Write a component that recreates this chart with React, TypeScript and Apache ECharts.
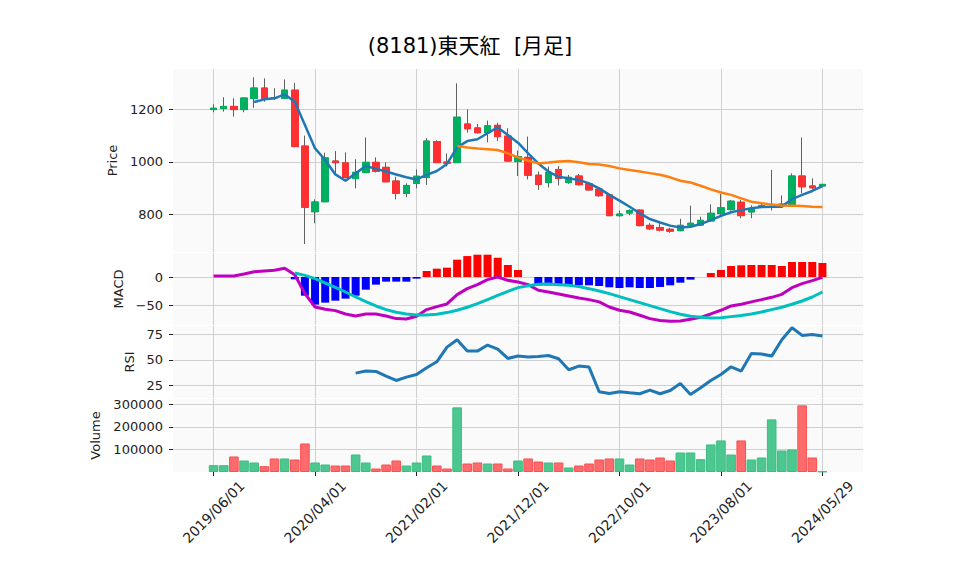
import React, { useEffect, useRef } from 'react';
import * as echarts from 'echarts';

const dates = [
  '2019/06/01', '2019/07/01', '2019/08/01', '2019/09/01', '2019/10/01', '2019/11/01', '2019/12/01',
  '2020/01/01', '2020/02/01', '2020/03/01', '2020/04/01', '2020/05/01', '2020/06/01', '2020/07/01',
  '2020/08/01', '2020/09/01', '2020/10/01', '2020/11/01', '2020/12/01', '2021/01/01', '2021/02/01',
  '2021/03/01', '2021/04/01', '2021/05/01', '2021/06/01', '2021/07/01', '2021/08/01', '2021/09/01',
  '2021/10/01', '2021/11/01', '2021/12/01', '2022/01/01', '2022/02/01', '2022/03/01', '2022/04/01',
  '2022/05/01', '2022/06/01', '2022/07/01', '2022/08/01', '2022/09/01', '2022/10/01', '2022/11/01',
  '2022/12/01', '2023/01/01', '2023/02/01', '2023/03/01', '2023/04/01', '2023/05/01', '2023/06/01',
  '2023/07/01', '2023/08/01', '2023/09/01', '2023/10/01', '2023/11/01', '2023/12/01', '2024/01/01',
  '2024/02/01', '2024/03/01', '2024/04/01', '2024/05/01', '2024/05/29',
];

const tickLabels = ['2019/06/01', '2020/04/01', '2021/02/01', '2021/12/01', '2022/10/01', '2023/08/01', '2024/05/29'];

const opens = [
  1199, 1203, 1211, 1199, 1241, 1281, 1245, 1242, 1273, 1060,
  810, 848, 1003, 996, 936, 959, 998, 979, 927, 880,
  918, 940, 1077, 999, 997, 1144, 1129, 1111, 1139, 1098,
  1001, 1017, 949, 921, 971, 921, 946, 916, 896, 874,
  795, 805, 816, 758, 750, 743, 738, 759, 759, 775,
  803, 818, 846, 809, 828, 828, 834, 831, 946, 908, 908,
];
const closes = [
  1204, 1211, 1199, 1243, 1281, 1241, 1243, 1273, 1058, 827,
  847, 1015, 997, 940, 960, 998, 964, 924, 880, 910,
  945, 1079, 997, 995, 1170, 1126, 1111, 1137, 1096, 1003,
  1020, 949, 914, 960, 937, 941, 913, 893, 871, 795,
  801, 814, 757, 745, 740, 736, 758, 766, 777, 804,
  825, 850, 795, 819, 833, 830, 839, 946, 905, 901, 914,
];
const highs = [
  1219, 1246, 1242, 1246, 1322, 1318, 1280, 1314, 1301, 1100,
  857, 1035, 1041, 1036, 1010, 1093, 1017, 998, 943, 918,
  971, 1090, 1082, 1032, 1299, 1200, 1144, 1157, 1149, 1128,
  1043, 1096, 963, 982, 984, 950, 954, 922, 903, 878,
  814, 819, 819, 766, 768, 749, 783, 833, 791, 838,
  877, 855, 855, 834, 840, 969, 872, 956, 1093, 937, 916,
];
const lows = [
  1189, 1191, 1172, 1189, 1206, 1229, 1235, 1240, 1056, 687,
  766, 848, 956, 937, 899, 958, 959, 921, 857, 865,
  899, 912, 995, 982, 997, 1111, 1108, 1074, 1079, 1001,
  946, 933, 893, 902, 910, 916, 910, 890, 867, 793,
  791, 796, 754, 740, 735, 730, 735, 755, 757, 772,
  791, 814, 785, 785, 825, 815, 832, 831, 880, 893, 906,
];

const ma5 = [
  null, null, null, null, 1228, 1238, 1242, 1257, 1229, 1140,
  1051, 1007, 952, 928, 956, 984, 973, 963, 952, 941,
  933, 950, 965, 992, 1055, 1079, 1086, 1109, 1131, 1102,
  1073, 1032, 994, 963, 943, 937, 931, 918, 899, 874,
  852, 829, 804, 782, 769, 757, 750, 753, 763, 778,
  794, 808, 816, 823, 828, 829, 829, 858, 874, 889, 907,
];
const ma25 = [
  null, null, null, null, null, null, null, null, null, null,
  null, null, null, null, null, null, null, null, null, null,
  null, null, null, null, 1060, 1055, 1051, 1048, 1045, 1032,
  1017, 1004, 994, 997, 1001, 1003, 998, 992, 990, 984,
  975, 969, 963, 957, 951, 941, 928, 921, 909, 895,
  883, 874, 861, 848, 842, 837, 834, 833, 832, 829, 828,
];

const macd = [
  1.8, 1.8, 1.8, 5.3, 9.4, 10.6, 11.8, 15.3, 4.1, -29.4,
  -53, -57, -59.4, -65.3, -68.8, -65.3, -65.3, -68.8, -73.5, -74.1,
  -69.4, -57.6, -52.4, -47.6, -31.2, -20.6, -13.5, -4.7, 0, -5.9,
  -8.8, -13.5, -23.5, -26.5, -30, -33.5, -37, -40, -44, -53,
  -58.8, -61.8, -67.6, -73.5, -77, -78.2, -77.6, -74.7, -71.2, -65.3,
  -58.8, -51.2, -48.2, -44, -40, -35.9, -30.6, -18.8, -11.8, -6.5, -0.6,
];
const signal = [
  null, null, null, null, null, null, null, null, 7, 2.9,
  -2.9, -10.6, -18.2, -26.5, -35.3, -43.5, -51.2, -57.6, -62.4, -65.3,
  -67, -67, -65.9, -62.9, -58.8, -53.5, -47, -40, -32.4, -25.3,
  -18.8, -15.3, -12.9, -12.4, -13.5, -14.7, -17, -20.6, -24.7, -29.4,
  -34.7, -40, -45.3, -50.6, -55.9, -61.2, -65.9, -69.4, -71.2, -72.4,
  -71.8, -70, -68.2, -65.3, -61.8, -57.6, -53.5, -48.2, -42.4, -35.3, -26.5,
];
const histogram = [
  null, null, null, null, null, null, null, null, -4.1, -33,
  -48.8, -45.3, -41.8, -38.2, -33, -22.4, -13.5, -8.2, -8.2, -8.2,
  -2.9, 10.6, 14.7, 16.5, 30.6, 37, 39.4, 39.4, 34, 21.2,
  12.4, 0, -14.7, -14.7, -14.7, -14.7, -14.7, -14.7, -15.9, -18.2,
  -19.4, -18.2, -19.4, -19.4, -17.6, -14.7, -10, -4.7, 0, 7,
  12.4, 19.4, 20.6, 21.2, 21.2, 21.2, 19.4, 26.5, 26.5, 26.5, 24.7,
];

const rsi = [
  null, null, null, null, null, null, null, null, null, null,
  null, null, null, null, 36.9, 38.9, 38.6, 34, 29.7, 33,
  35.6, 42.2, 48, 62.4, 69.6, 58.5, 58.5, 64.4, 60.5, 51.3,
  53.6, 52.6, 53.3, 54.2, 51, 40.2, 43.8, 42.8, 18.6, 17,
  18.6, 17.6, 16.7, 20.3, 16.7, 19.9, 26.8, 16, 22.5, 29.7,
  35.6, 43.1, 38.9, 56.2, 55.6, 53.6, 69.6, 81.4, 73.9, 74.8, 73.2,
];

const volume = [
  30200, 30200, 68800, 51000, 42100, 25800, 59900, 59900, 55400, 126500,
  42100, 33200, 28800, 28800, 77600, 42100, 15400, 33200, 51000, 28800,
  42100, 73200, 28800, 15400, 286500, 37600, 42100, 37600, 37600, 15400,
  51000, 59900, 46500, 42100, 42100, 19900, 28800, 37600, 55400, 59900,
  59900, 33200, 59900, 55400, 64300, 51000, 86500, 86500, 56900, 122100,
  139900, 77600, 139900, 55400, 64300, 233200, 95400, 99900, 295400, 64300, 2100,
];

const priceTicks = [800, 1000, 1200];
const macdTicks = [-50, 0];
const rsiTicks = [25, 50, 75];
const volumeTicks = [100000, 200000, 300000];

const PAD = 4;
const FONT = '"DejaVu Sans", "Noto Sans CJK JP", sans-serif';
const UP = '#00b060';
const DOWN = '#fe3032';
const VUP = '#4dc790';
const VDOWN = '#fd6b6c';
const TEXT = '#222222';
const GRIDC = '#d0d0d0';

export default function App() {
  const ref = useRef<HTMLDivElement>(null);

  useEffect(() => {
    if (!ref.current) return;
    const chart = echarts.init(ref.current, null, { renderer: 'svg' });

    const cats = [
      ...Array.from({ length: PAD }, (_, i) => `_l${i}`),
      ...dates,
      ...Array.from({ length: PAD }, (_, i) => `_r${i}`),
    ];
    const padArr = (arr: any[]) => [
      ...Array(PAD).fill('-'),
      ...arr.map((v) => (v === null || v === undefined ? '-' : v)),
      ...Array(PAD).fill('-'),
    ];
    const padItems = (arr: any[]) => [...Array(PAD).fill('-'), ...arr, ...Array(PAD).fill('-')];

    const isTick = (_i: number, v: string) => tickLabels.includes(v);

    const wickData = padItems(dates.map((_, i) => [opens[i], closes[i], lows[i], highs[i]]));
    const bodyData = padItems(
      dates.map((_, i) => [opens[i], closes[i], Math.min(opens[i], closes[i]), Math.max(opens[i], closes[i])])
    );
    const histData = padItems(
      histogram.map((v) =>
        v === null ? '-' : { value: v, itemStyle: { color: v >= 0 ? '#ff0000' : '#0000ff' } }
      )
    );
    const volData = padItems(
      volume.map((v, i) => {
        const up = closes[i] >= opens[i];
        return {
          value: v,
          itemStyle: {
            color: up ? VUP : VDOWN,
            borderColor: up ? '#3bbd83' : '#fd4f50',
            borderWidth: 1,
          },
        };
      })
    );

    const grids = [
      { top: 69, height: 183 },
      { top: 253, height: 72 },
      { top: 326, height: 72 },
      { top: 399, height: 73 },
    ].map((g) => ({
      left: 173,
      width: 690,
      top: g.top,
      height: g.height,
      show: true,
      backgroundColor: '#fafafa',
      borderWidth: 0,
      containLabel: false,
      outerBoundsMode: 'none',
    }));

    const xAxes = [0, 1, 2, 3].map((gi) => ({
      type: 'category',
      gridIndex: gi,
      data: cats,
      boundaryGap: false,
      axisLine: { show: false },
      axisTick: {
        show: gi === 3,
        interval: isTick,
        length: 4,
        lineStyle: { color: TEXT, width: 1 },
      },
      axisLabel: {
        show: gi === 3,
        interval: isTick,
        rotate: 45,
        align: 'center',
        verticalAlign: 'middle',
        margin: 40,
        fontSize: 14,
        color: TEXT,
        fontFamily: FONT,
      },
      splitLine: { show: true, interval: isTick, lineStyle: { color: GRIDC, width: 1 } },
    }));

    const minusFmt = (v: number) => (v < 0 ? '\u2212' + Math.abs(v) : String(v));

    const yAxis = (gi: number, min: number, max: number, ticks: number[], name: string, nameGap: number) => ({
      type: 'value',
      gridIndex: gi,
      min,
      max,
      name,
      nameLocation: 'middle',
      nameGap,
      nameTextStyle: { fontSize: 13, color: TEXT, fontFamily: FONT },
      axisLine: { show: false },
      axisTick: { show: true, length: 4, customValues: ticks, lineStyle: { color: TEXT, width: 1 } },
      axisLabel: {
        customValues: ticks,
        fontSize: 13,
        color: TEXT,
        fontFamily: FONT,
        margin: 10,
        formatter: minusFmt,
      },
      splitLine: { show: true, lineStyle: { color: GRIDC, width: 1 } },
    });

    const line = (xi: number, data: any[], color: string, width: number) => ({
      type: 'line',
      xAxisIndex: xi,
      yAxisIndex: xi,
      data: padArr(data),
      symbol: 'none',
      showSymbol: false,
      connectNulls: false,
      lineStyle: { color, width },
      itemStyle: { color },
      silent: true,
    });

    const option: any = {
      animation: false,
      backgroundColor: '#ffffff',
      textStyle: { fontFamily: FONT },
      graphic: [
        {
          type: 'text',
          x: 470,
          y: 46,
          style: {
            text: '(8181)東天紅  [月足]',
            fontSize: 21,
            fontFamily: FONT,
            fill: '#000000',
            textAlign: 'center',
            textVerticalAlign: 'middle',
          },
        },
      ],
      grid: grids,
      xAxis: xAxes,
      yAxis: [
        yAxis(0, 656.5, 1353.6, priceTicks, 'Price', 51),
        yAxis(1, -84.8, 42.4, macdTicks, 'MACD', 43),
        yAxis(2, 12.5, 83.1, rsiTicks, 'RSI', 36),
        yAxis(3, 0, 323500, volumeTicks, 'Volume', 70),
      ],
      series: [
        {
          type: 'candlestick',
          xAxisIndex: 0,
          yAxisIndex: 0,
          barWidth: 7,
          data: wickData,
          silent: true,
          itemStyle: {
            color: UP,
            color0: DOWN,
            borderColor: '#606060',
            borderColor0: '#606060',
            borderColorDoji: '#606060',
            borderWidth: 1,
          },
        },
        {
          type: 'candlestick',
          xAxisIndex: 0,
          yAxisIndex: 0,
          barWidth: 7,
          data: bodyData,
          silent: true,
          itemStyle: {
            color: UP,
            color0: DOWN,
            borderColor: UP,
            borderColor0: DOWN,
            borderColorDoji: UP,
            borderWidth: 1,
          },
        },
        line(0, ma5, '#1f77b4', 2.5),
        line(0, ma25, '#ff7f0e', 2.5),
        {
          type: 'bar',
          xAxisIndex: 1,
          yAxisIndex: 1,
          barWidth: 8,
          data: histData,
          silent: true,
        },
        line(1, macd, '#bf00bf', 3),
        line(1, signal, '#00bfbf', 3),
        line(2, rsi, '#1f77b4', 3),
        {
          type: 'bar',
          xAxisIndex: 3,
          yAxisIndex: 3,
          barWidth: 9.6,
          data: volData,
          silent: true,
        },
      ],
    };

    chart.setOption(option);
    return () => chart.dispose();
  }, []);

  return <div ref={ref} style={{ position: 'fixed', left: 0, top: 0, width: 958, height: 575 }} />;
}
